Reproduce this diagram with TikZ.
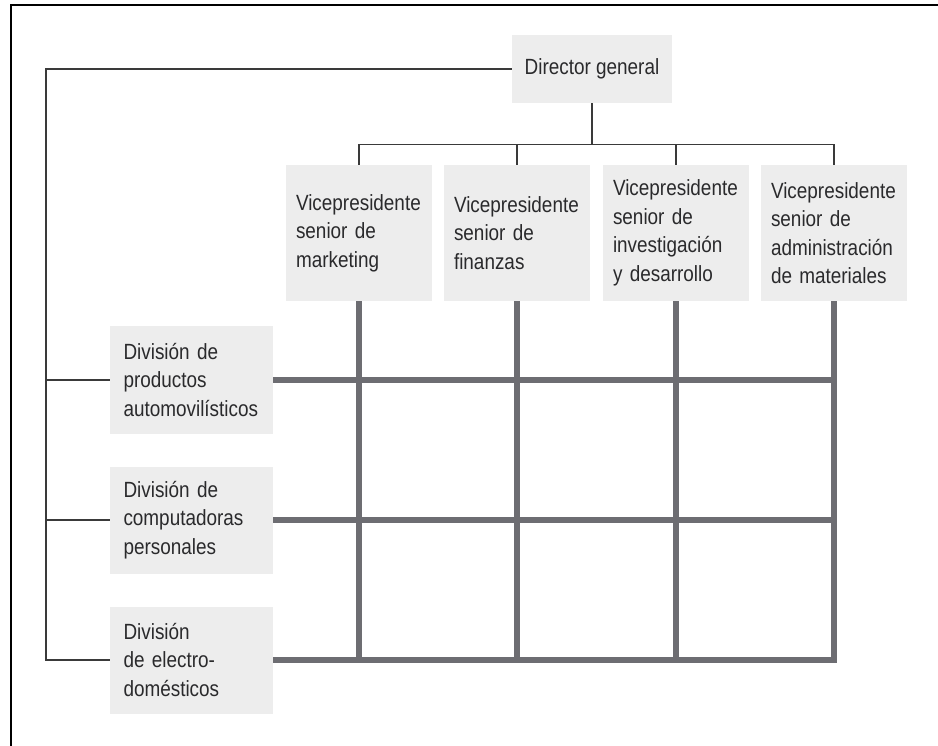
\documentclass[tikz,border=0pt]{standalone}
\usepackage{fontspec}
\setmainfont{Liberation Sans}[FakeStretch=0.86]
\usetikzlibrary{positioning,calc}
\definecolor{ink}{HTML}{2A2A2C}
\definecolor{boxgray}{HTML}{EDEDED}
\definecolor{gridgray}{HTML}{6D6D72}
\definecolor{wiregray}{HTML}{3A3A3A}

\begin{document}
\begin{tikzpicture}[x=1pt,y=-1pt,
    font=\fontsize{22}{28.5}\selectfont,text=ink,
    topbox/.style={fill=boxgray,inner xsep=9pt,minimum width=160pt,minimum height=68pt},
    vpbox/.style={fill=boxgray,text width=126pt,inner xsep=10pt,align=left,
                  minimum height=136pt},
    divbox/.style={fill=boxgray,text width=136pt,inner xsep=13.5pt,align=left,
                   minimum height=107pt},
    wire/.style={draw=wiregray,line width=1.2pt},
    gridline/.style={draw=gridgray,line width=5.5pt}]
  \useasboundingbox (0,0) rectangle (938,746);
  \draw[line width=2.5pt] (11,746) -- (11,5) -- (938,5);
  % top of the chart
  \node[topbox] (dir) at (592,69) {Director general};
  \node[vpbox] (vp1) at (359,233) {Vicepresidente\\senior de\\marketing};
  \node[vpbox] (vp2) at (517,233) {Vicepresidente\\senior de\\finanzas};
  \node[vpbox] (vp3) at (676,233) {Vicepresidente\\senior de\\investigación\\y desarrollo};
  \node[vpbox] (vp4) at (834,233) {Vicepresidente\\senior de\\administración\\de materiales};
  % divisions
  \node[divbox] (div1) at (191.5,380) {División de\\productos\\automovilísticos};
  \node[divbox] (div2) at (191.5,520) {División de\\computadoras\\personales};
  \node[divbox] (div3) at (191.5,660) {División\\de electro-\\domésticos};
  % thin lines
  \coordinate (bus) at ($(dir.south)+(0,41)$);
  \coordinate (corner) at (46,69);
  \draw[wire] (dir.south) -- (bus);
  \draw[wire] (vp1.north |- bus) -- (vp4.north |- bus);
  \foreach \v in {vp1,vp2,vp3,vp4}
    \draw[wire] (\v.north) -- (\v.north |- bus);
  \draw[wire] (dir.west) -- (corner) |- (div3.west);
  \draw[wire] (corner |- div1.west) -- (div1.west);
  \draw[wire] (corner |- div2.west) -- (div2.west);
  % matrix grid
  \foreach \v in {vp1,vp2,vp3}
    \draw[gridline] (\v.south) -- (\v.south |- div3.east);
  \foreach \d in {div1,div2}
    \draw[gridline] (\d.east) -- (vp4.south |- \d.east);
  \draw[gridline] (vp4.south) -- (vp4.south |- div3.east) -- (div3.east);
\end{tikzpicture}
\end{document}
